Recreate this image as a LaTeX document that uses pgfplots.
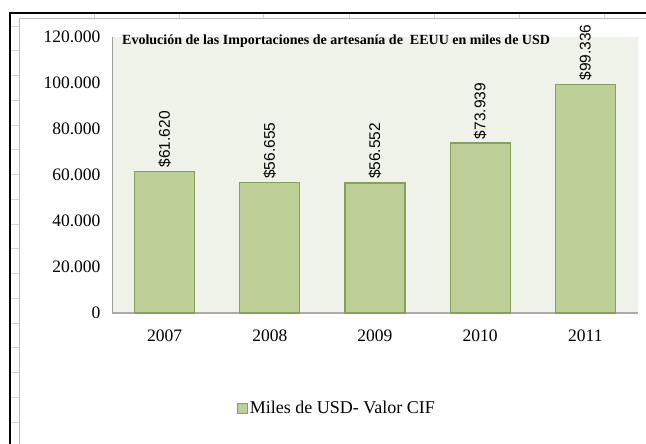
\documentclass[border=0pt]{standalone}
\usepackage{fontspec}
\setmainfont{Liberation Serif}
\setsansfont{Liberation Sans}
\usepackage{pgfplots}
\pgfplotsset{compat=1.18}
\definecolor{bgc}{RGB}{239,242,233}
\definecolor{barfill}{RGB}{187,207,151}
\definecolor{baredge}{RGB}{134,160,90}
\begin{document}
\begin{tikzpicture}[x=1pt,y=1pt]
\useasboundingbox (0,0) rectangle (646,444);
\fill[white] (0,0) rectangle (646,444);
\foreach \xx in {94,179,263,349,434,519,604} \draw[gray!35] (\xx,425) -- (\xx,431);
\foreach \yy in {22,47,72,97,121,146,171,196,220,245,270,295,319,344,369,394,418} \draw[gray!35] (10,\yy) -- (19,\yy);
\draw[black, line width=2.5pt] (10,0) -- (10,431) -- (646,431);
\draw[gray!55, line width=1pt] (19,0) -- (19,425) -- (646,425);
\begin{axis}[
  at={(112pt,131pt)}, anchor=south west, scale only axis,
  width=526pt, height=276pt,
  xmin=-0.5, xmax=4.5, ymin=0, ymax=120000,
  enlargelimits=false, clip=false,
  scaled y ticks=false,
  xtick={0,1,2,3,4}, xticklabels={2007,2008,2009,2010,2011},
  ytick={0,20000,40000,60000,80000,100000,120000},
  yticklabels={0,20.000,40.000,60.000,80.000,100.000,120.000},
  axis background/.style={fill=bgc},
  axis x line*=bottom, axis y line*=left,
  x axis line style={-, draw=gray!65, line width=1.5pt},
  y axis line style={-, draw=gray!75, line width=0.8pt},
  tick style={draw=none},
  ticklabel style={font=\fontsize{17.5}{17.5}\selectfont},
  yticklabel style={xshift=-8pt},
  xticklabel style={yshift=-9pt},
  ybar, bar width=60pt,
  nodes near coords={\$\pgfplotspointmeta},
  point meta=explicit symbolic,
  nodes near coords style={rotate=90, anchor=west, font=\sffamily\fontsize{15.5}{15.5}\selectfont},
  legend style={at={(0.428,-0.344)}, anchor=center, draw=none, fill=none, font=\fontsize{18}{18}\selectfont},
  legend image code/.code={\draw[fill=barfill,draw=baredge,line width=0.6pt] (0pt,-5pt) rectangle (10pt,5pt);},
]
\addplot[fill=barfill, draw=baredge, line width=1.2pt] table[x=x,y=y,meta=label] {
x y label
0 61620 61.620
1 56655 56.655
2 56552 56.552
3 73939 73.939
4 99336 99.336
};
\addlegendentry{Miles de USD- Valor CIF}
\end{axis}
\node[anchor=west, inner sep=0, font=\bfseries\fontsize{14}{14}\selectfont] at (122,403) {Evolución de las Importaciones de artesanía de \ EEUU en miles de USD};
\end{tikzpicture}
\end{document}
